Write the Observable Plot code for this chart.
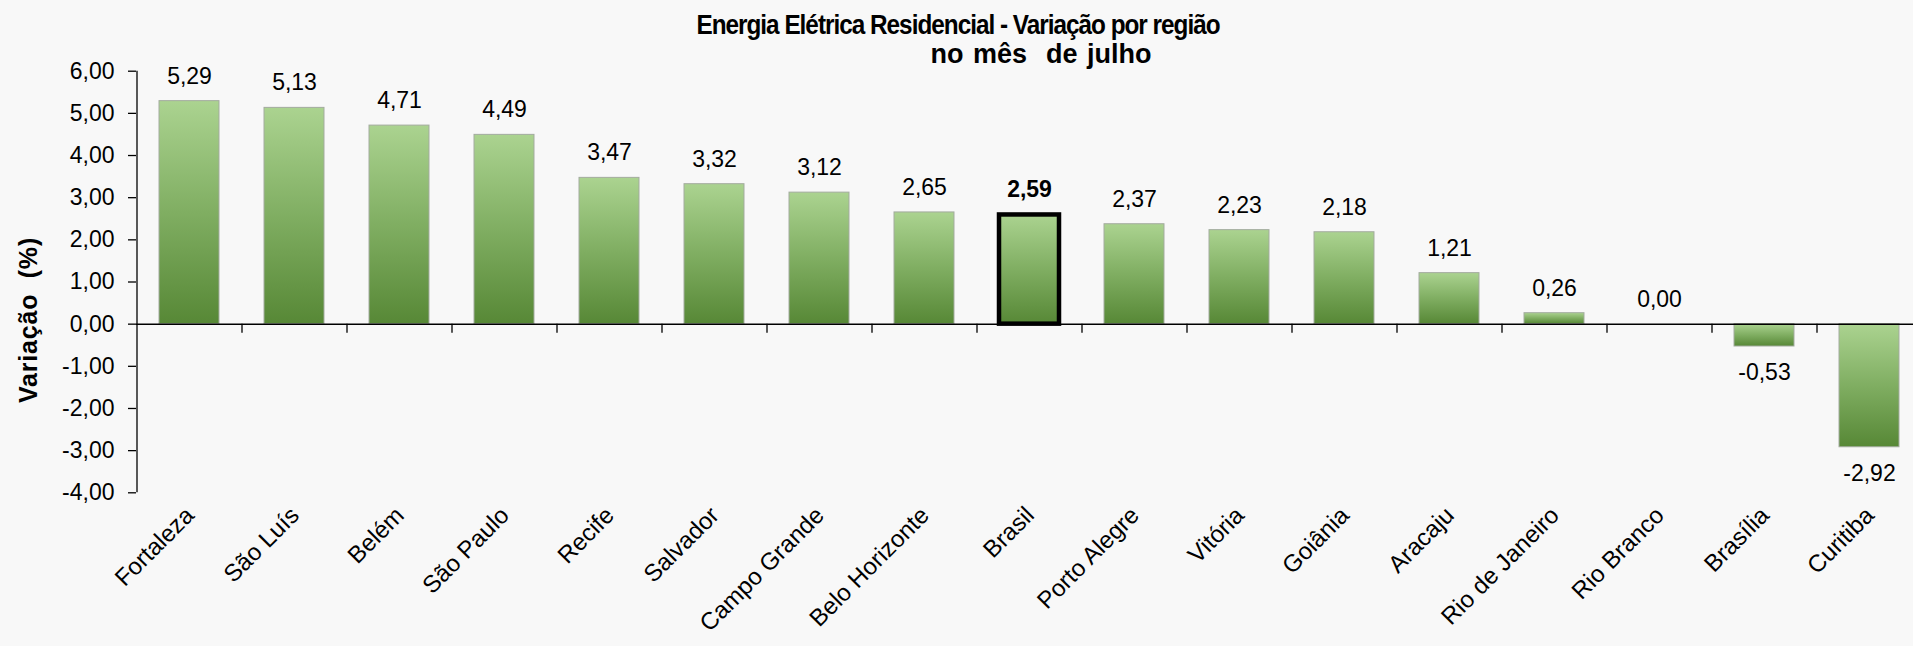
<!DOCTYPE html>
<html><head><meta charset="utf-8">
<script src="https://cdn.jsdelivr.net/npm/d3@7"></script>
<script src="https://cdn.jsdelivr.net/npm/@observablehq/plot@0.6"></script>
<style>
html,body{margin:0;padding:0;background:#f8f8f8;overflow:hidden}
#wrap{width:1913px;height:646px;position:relative;font-family:"Liberation Sans",Arial,sans-serif;color:#000}
#title{height:60px;position:relative}
.t{position:absolute;font-weight:bold;font-size:27px;line-height:29px;white-space:pre}
#ylab{position:absolute;left:28px;top:320px;font-weight:bold;font-size:25px;line-height:29px;letter-spacing:0.8px;white-space:pre;transform:translate(-50%,-50%) rotate(-90deg);z-index:2}
</style></head><body>
<div id="wrap">
<div id="title">
<div class="t" id="t1" style="left:958px;top:11px;letter-spacing:-1.1px;transform:translateX(-50%) scaleX(0.9)"></div>
<div class="t" id="t2" style="left:1041px;top:40px;word-spacing:2px;transform:translateX(-50%)"></div>
</div>
<div id="ylab"></div>
<div id="chart"></div>
</div>
<script>
const titulo1 = "Energia Elétrica Residencial - Variação por região";
const titulo2 = "no mês  de julho";
const yTitulo = "Variação  (%)";
const cidades = ["Fortaleza","São Luís","Belém","São Paulo","Recife","Salvador","Campo Grande","Belo Horizonte","Brasil","Porto Alegre","Vitória","Goiânia","Aracaju","Rio de Janeiro","Rio Branco","Brasília","Curitiba"];
const variacao = [5.29,5.13,4.71,4.49,3.47,3.32,3.12,2.65,2.59,2.37,2.23,2.18,1.21,0.26,0.00,-0.53,-2.92];
const destaque = "Brasil";
const yTicks = [-4,-3,-2,-1,0,1,2,3,4,5,6];

document.getElementById("t1").textContent = titulo1;
document.getElementById("t2").textContent = titulo2;
document.getElementById("ylab").textContent = yTitulo;

const data = cidades.map((c, i) => ({cidade: c, valor: variacao[i]}));
const fmt = v => v.toFixed(2).replace(".", ",");
const FONT = '"Liberation Sans", Arial, sans-serif';
const W = 1913, ML = 136, step = (1921 - ML) / cidades.length;

const defs = () => {
  const ns = "http://www.w3.org/2000/svg";
  const d = document.createElementNS(ns, "defs");
  const g = document.createElementNS(ns, "linearGradient");
  g.setAttribute("id", "verde");
  g.setAttribute("x1", "0"); g.setAttribute("y1", "0");
  g.setAttribute("x2", "0"); g.setAttribute("y2", "1");
  [["0%", "#abd390"], ["50%", "#80ae62"], ["100%", "#578836"]].forEach(([o, c]) => {
    const s = document.createElementNS(ns, "stop");
    s.setAttribute("offset", o); s.setAttribute("stop-color", c);
    g.appendChild(s);
  });
  d.appendChild(g);
  return d;
};

const chart = Plot.plot({
  width: W,
  height: 586,
  marginLeft: ML,
  marginRight: 0,
  marginTop: 10.7,
  marginBottom: 153.7,
  style: {fontFamily: FONT, fontSize: "22px", background: "transparent", color: "#000", overflow: "visible"},
  x: {domain: cidades, range: [ML, 1921], paddingInner: 0.43, paddingOuter: 0.215, axis: null},
  y: {domain: [-4, 6], ticks: yTicks, label: null},
  marks: [
    defs,
    Plot.barY(data.filter(d => d.valor !== 0 && d.cidade !== destaque), {x: "cidade", y: "valor", fill: "url(#verde)", stroke: "#a3ab9f", strokeWidth: 1}),
    Plot.barY(data.filter(d => d.cidade === destaque), {x: "cidade", y: "valor", fill: "url(#verde)", stroke: "#000", strokeWidth: 4.5}),
    Plot.ruleY([0], {stroke: "#000", strokeWidth: 1.5}),
    Plot.ruleX(cidades.slice(1), {x: d => d, dx: -step / 2, y1: () => 0, y2: () => 0, insetBottom: -9, stroke: "#000", strokeWidth: 1.3}),
    Plot.ruleX([cidades[0]], {x: d => d, dx: -step / 2, y1: () => -4, y2: () => 6, stroke: "#000", strokeWidth: 1.3}),
    Plot.axisY({ticks: yTicks, tickSize: 8, tickPadding: 14, tickFormat: fmt, fontSize: 23, letterSpacing: 0.3, stroke: "#000", strokeWidth: 1.3, label: null}),
    Plot.text(data.filter(d => d.valor >= 0 && d.cidade !== destaque), {x: "cidade", y: "valor", text: d => fmt(d.valor), dy: -25, fontSize: 23, letterSpacing: 1}),
    Plot.text(data.filter(d => d.cidade === destaque), {x: "cidade", y: "valor", text: d => fmt(d.valor), dy: -25, fontSize: 23, letterSpacing: 0.8, fontWeight: "bold"}),
    Plot.text(data.filter(d => d.valor < 0), {x: "cidade", y: "valor", text: d => fmt(d.valor), dy: 26, fontSize: 23, letterSpacing: 1}),
    Plot.text(cidades, {x: d => d, frameAnchor: "bottom", text: d => d, rotate: -45, textAnchor: "end", dx: 6, dy: 24, fontSize: 24, letterSpacing: 0.7})
  ]
});
document.getElementById("chart").appendChild(chart);
</script>
</body></html>
